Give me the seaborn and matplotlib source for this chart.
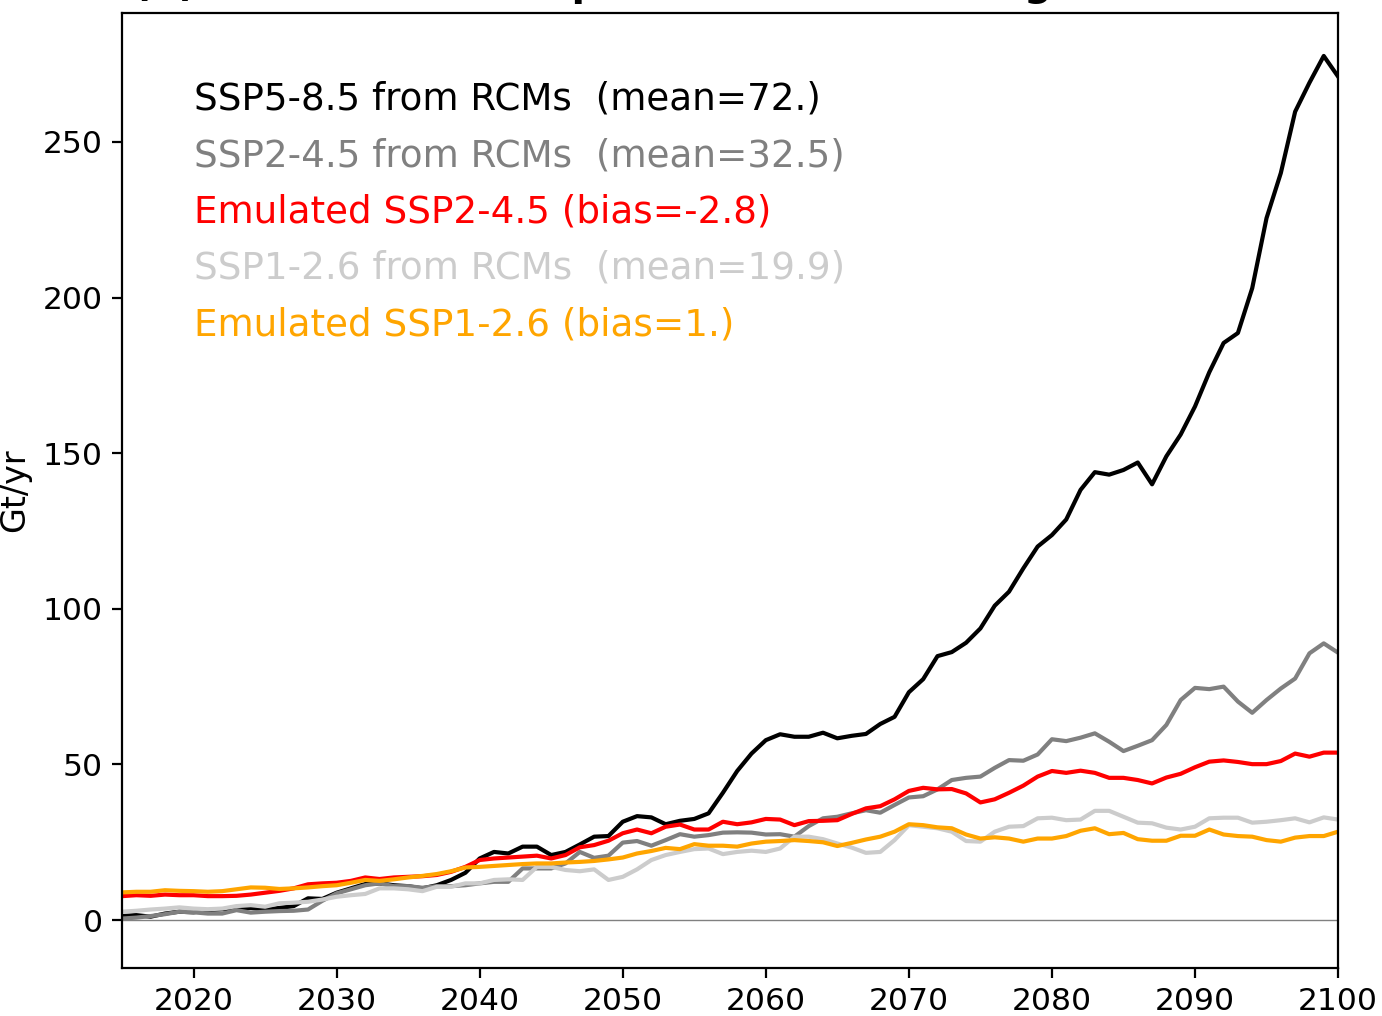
import numpy as np
import pandas as pd
import matplotlib
matplotlib.use("Agg")
import matplotlib.pyplot as plt
import seaborn as sns

years = list(range(2015, 2101))

ssp585_rcm = [1.3, 1.6, 1.1, 2.1, 2.7, 2.5, 3.2, 3.5, 3.7, 3.9,
              3.4, 3.9, 4.5, 7.0, 6.8, 8.8, 10.2, 11.6, 11.8, 11.2,
              10.9, 10.2, 11.2, 12.9, 15.2, 19.8, 21.9, 21.4, 23.6, 23.6,
              20.9, 21.9, 24.3, 26.8, 27.0, 31.6, 33.4, 33.0, 30.8, 31.9,
              32.5, 34.3, 40.9, 47.9, 53.5, 57.8, 59.7, 58.9, 58.9, 60.2,
              58.4, 59.2, 59.8, 63.0, 65.3, 73.2, 77.4, 84.8, 86.1, 89.1,
              93.7, 101.0, 105.5, 113.0, 120.0, 123.7, 128.7, 138.2, 143.9, 143.1,
              144.6, 147.0, 140.0, 149.0, 156.0, 165.0, 176.0, 185.4, 188.6, 203.0,
              225.5, 240.0, 259.7, 269.0, 277.6, 271.0]

ssp245_rcm = [0.5, 0.8, 1.3, 1.9, 2.7, 2.5, 2.1, 2.1, 3.2, 2.4,
              2.7, 2.9, 3.0, 3.4, 6.2, 8.6, 9.9, 11.2, 11.8, 10.9,
              10.9, 10.4, 10.9, 10.9, 11.2, 11.8, 12.3, 12.3, 16.6, 16.6,
              16.6, 18.2, 21.9, 20.0, 20.7, 24.9, 25.4, 23.9, 25.7, 27.6,
              26.8, 27.3, 28.1, 28.2, 28.1, 27.5, 27.6, 26.8, 30.2, 32.7,
              33.2, 34.3, 35.3, 34.5, 37.0, 39.4, 39.8, 42.0, 45.0, 45.7,
              46.1, 48.9, 51.4, 51.2, 53.2, 58.1, 57.5, 58.6, 60.0, 57.3,
              54.3, 56.0, 57.8, 62.7, 70.7, 74.6, 74.2, 75.0, 70.2, 66.6,
              70.7, 74.4, 77.6, 85.7, 88.9, 85.9]

ssp245_emul = [7.7, 8.0, 7.8, 8.2, 8.0, 8.0, 7.7, 7.7, 7.8, 8.2,
               8.8, 9.4, 10.2, 11.5, 11.8, 12.0, 12.6, 13.7, 13.2, 13.7,
               13.9, 14.1, 14.5, 15.5, 17.1, 19.3, 19.8, 20.1, 20.4, 20.7,
               19.8, 20.9, 23.4, 24.1, 25.5, 27.9, 29.1, 27.9, 30.0, 30.7,
               29.1, 29.1, 31.6, 30.8, 31.4, 32.5, 32.3, 30.5, 31.8, 31.9,
               32.1, 34.1, 35.9, 36.6, 38.8, 41.5, 42.5, 42.0, 42.1, 40.7,
               37.8, 38.8, 40.9, 43.2, 46.1, 47.9, 47.3, 48.0, 47.3, 45.7,
               45.7, 45.0, 43.9, 45.8, 47.0, 49.1, 50.9, 51.3, 50.8, 50.1,
               50.1, 51.1, 53.5, 52.5, 53.8, 53.8]

ssp126_rcm = [2.7, 3.0, 3.4, 3.7, 4.1, 3.7, 3.5, 3.7, 4.5, 4.8,
              4.3, 5.4, 5.6, 5.9, 6.6, 7.5, 8.0, 8.4, 10.2, 10.2,
              9.9, 9.3, 10.7, 10.7, 11.8, 11.8, 12.9, 13.1, 12.9, 17.1,
              17.1, 16.1, 15.7, 16.3, 12.9, 13.9, 16.3, 19.3, 20.9, 21.9,
              22.8, 23.0, 21.2, 21.9, 22.3, 21.9, 23.0, 26.8, 26.8, 26.0,
              24.6, 23.3, 21.6, 21.9, 25.7, 30.5, 30.0, 29.5, 28.4, 25.4,
              25.2, 28.4, 30.0, 30.2, 32.7, 32.9, 32.1, 32.3, 35.1, 35.1,
              33.2, 31.3, 31.1, 29.7, 29.1, 30.0, 32.7, 32.9, 32.9, 31.3,
              31.6, 32.1, 32.7, 31.4, 33.0, 32.3]

ssp126_emul = [8.9, 9.1, 9.1, 9.6, 9.4, 9.3, 9.1, 9.3, 9.9, 10.5,
               10.4, 10.0, 10.2, 10.5, 10.9, 11.2, 12.0, 12.9, 12.6, 13.1,
               13.7, 14.2, 14.8, 15.7, 16.9, 17.1, 17.4, 17.7, 18.0, 18.2,
               18.2, 18.5, 18.7, 19.0, 19.5, 20.1, 21.4, 22.2, 23.2, 22.8,
               24.4, 23.9, 23.9, 23.6, 24.6, 25.2, 25.4, 25.7, 25.4, 25.0,
               23.8, 24.8, 25.9, 26.8, 28.4, 30.8, 30.5, 29.8, 29.5, 27.5,
               26.2, 26.6, 26.2, 25.2, 26.2, 26.2, 27.0, 28.7, 29.5, 27.6,
               28.0, 26.0, 25.5, 25.5, 27.1, 27.1, 29.1, 27.5, 27.0, 26.8,
               25.7, 25.2, 26.5, 27.0, 27.0, 28.4]

labels = ["SSP5-8.5 from RCMs  (mean=72.)",
          "SSP2-4.5 from RCMs  (mean=32.5)",
          "Emulated SSP2-4.5 (bias=-2.8)",
          "SSP1-2.6 from RCMs  (mean=19.9)",
          "Emulated SSP1-2.6 (bias=1.)"]
colors = ["black", "grey", "red", "#cccccc", "orange"]
series = [ssp585_rcm, ssp245_rcm, ssp245_emul, ssp126_rcm, ssp126_emul]

title = "(b) Surface melt response to the warming in the RCMs"
ylabel = "Gt/yr"
xticks = [2020, 2030, 2040, 2050, 2060, 2070, 2080, 2090, 2100]
yticks = [0, 50, 100, 150, 200, 250]

fig = plt.figure(figsize=(6.91, 5.08), dpi=200)
ax = fig.add_axes([0.0883, 0.0472, 0.8799, 0.94])

ax.axhline(0, color="grey", lw=0.5, zorder=1)
for vals, col, lab in zip(series, colors, labels):
    df = pd.DataFrame({"year": years, "value": vals})
    sns.lineplot(data=df, x="year", y="value", color=col, lw=1.5,
                 label=lab, ax=ax)

ax.set_xlim(2015, 2100)
ax.set_ylim(-15.4, 291.4)
ax.set_xticks(xticks)
ax.set_yticks(yticks)
ax.tick_params(labelsize=11.3)
ax.set_xlabel("")
ax.set_ylabel(ylabel, fontsize=12)
ax.set_title(title, fontsize=14, fontweight="bold")

leg = ax.legend(loc="upper left", bbox_to_anchor=(0.0592, 0.929),
                frameon=False, fontsize=13.4, handlelength=0,
                handletextpad=0, borderaxespad=0, borderpad=0,
                labelspacing=0.52, labelcolor="linecolor")
for h in leg.legend_handles:
    h.set_visible(False)

fig.savefig("out.png", dpi=200)
